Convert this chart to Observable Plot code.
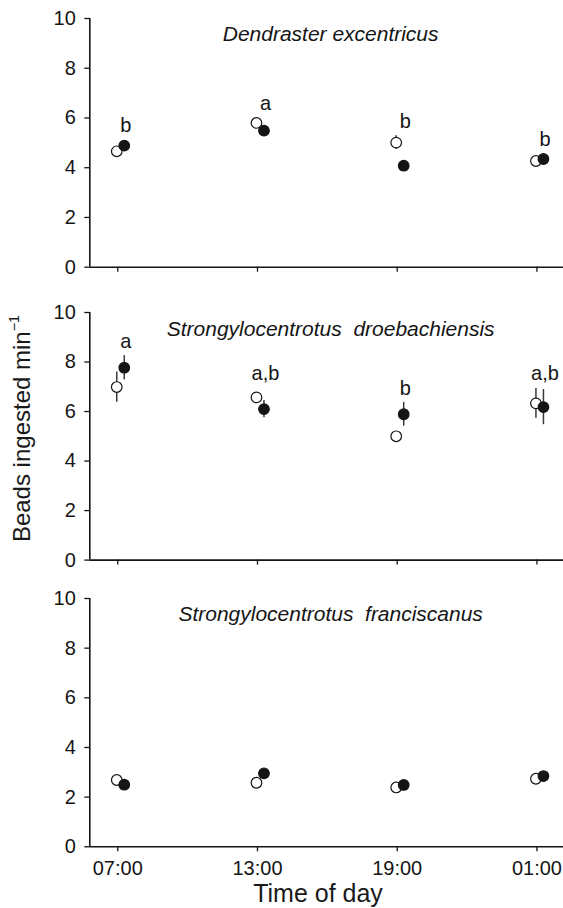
<!DOCTYPE html>
<html>
<head>
<meta charset="utf-8">
<script src="https://cdn.jsdelivr.net/npm/d3@7"></script>
<script src="https://cdn.jsdelivr.net/npm/@observablehq/plot@0.6"></script>
<style>
  html, body { margin: 0; padding: 0; background: #fff; }
  #wrap { position: relative; width: 563px; height: 908px; overflow: hidden; background: #fff;
          font-family: "Liberation Sans", Arial, Helvetica, sans-serif; color: #1a1a1a; }
  .panel { position: absolute; left: 0; }
  #ylab { position: absolute; width: 320px; height: 25px; line-height: 25px; text-align: center;
          font-size: 24px; left: -139.5px; top: 415.5px; transform: rotate(-90deg); white-space: nowrap; }
  #ylab sup { font-size: 0.6em; vertical-align: 0; position: relative; top: -0.75em; }
  #xlab { position: absolute; width: 300px; left: 168px; top: 880.5px; line-height: 25px; height: 25px;
          font-size: 25px; text-align: center; }
</style>
</head>
<body>
<div id="wrap">
  <div id="ylab">Beads ingested min<sup>−1</sup></div>
  <div id="xlab">Time of day</div>
</div>
<script>
// ---- data ----
const times = ["07:00", "13:00", "19:00", "01:00"];
const species = ["Dendraster excentricus", "Strongylocentrotus  droebachiensis", "Strongylocentrotus  franciscanus"];
const yTicks = [0, 2, 4, 6, 8, 10];

// Dendraster excentricus
const openMean1   = [4.66, 5.80, 5.01, 4.27];
const openSE1     = [0.12, 0.12, 0.28, 0.10];
const filledMean1 = [4.89, 5.49, 4.08, 4.35];
const filledSE1   = [0.10, 0.10, 0.10, 0.10];
const letters1    = ["b", "a", "b", "b"];
const letterY1    = [5.69, 6.59, 5.86, 5.13];

// Strongylocentrotus droebachiensis
const openMean2   = [6.99, 6.57, 5.00, 6.33];
const openSE2     = [0.61, 0.15, 0.15, 0.60];
const filledMean2 = [7.77, 6.10, 5.89, 6.18];
const filledSE2   = [0.49, 0.35, 0.48, 0.71];
const letters2    = ["a", "a,b", "b", "a,b"];
const letterY2    = [8.81, 7.54, 6.94, 7.54];

// Strongylocentrotus franciscanus
const openMean3   = [2.69, 2.58, 2.39, 2.74];
const openSE3     = [0.10, 0.10, 0.10, 0.10];
const filledMean3 = [2.50, 2.96, 2.49, 2.85];
const filledSE3   = [0.10, 0.10, 0.10, 0.10];
const letters3    = [];
const letterY3    = [];

// ---- layout ----
const xDomain = [-0.2, 3.19];
const ink = "#151515";
const panels = [
  {title: species[0], open: openMean1, openSE: openSE1, filled: filledMean1, filledSE: filledSE1, letters: letters1, letterY: letterY1,
   top: 0, plotH: 248.7, mb: 10, labels: false, titleDy: 8},
  {title: species[1], open: openMean2, openSE: openSE2, filled: filledMean2, filledSE: filledSE2, letters: letters2, letterY: letterY2,
   top: 293.7, plotH: 247.6, mb: 10, labels: false, titleDy: 8.5},
  {title: species[2], open: openMean3, openSE: openSE3, filled: filledMean3, filledSE: filledSE3, letters: letters3, letterY: letterY3,
   top: 580, plotH: 248.3, mb: 40, labels: true, titleDy: 7.5}
];

const wrap = document.getElementById("wrap");
const mt = 18;

for (const p of panels) {
  const openRows = times.map((t, i) => ({i, m: p.open[i], lo: p.open[i] - p.openSE[i], hi: p.open[i] + p.openSE[i]}));
  const filledRows = times.map((t, i) => ({i, m: p.filled[i], lo: p.filled[i] - p.filledSE[i], hi: p.filled[i] + p.filledSE[i]}));
  const letterRows = p.letters.map((l, i) => ({i, l, y: p.letterY[i]}));

  const chart = Plot.plot({
    width: 563,
    height: mt + p.plotH + p.mb,
    marginTop: mt,
    marginBottom: p.mb,
    marginLeft: 89.3,
    marginRight: 0,
    style: {fontFamily: '"Liberation Sans", Arial, Helvetica, sans-serif', fontSize: "20px", color: ink, background: "transparent", overflow: "visible"},
    x: {type: "linear", domain: xDomain},
    y: {domain: [0, 10]},
    marks: [
      Plot.axisY({ticks: yTicks, tickSize: 5, tickPadding: 9, fontSize: 20, label: null, strokeWidth: 1.3}),
      Plot.axisX({ticks: d3.range(times.length), tickSize: 5, tickPadding: 9, fontSize: 20, label: null, strokeWidth: 1.3,
                  tickFormat: p.labels ? (i => times[i]) : (() => "")}),
      Plot.ruleY([0], {stroke: ink, strokeWidth: 1.6}),
      Plot.ruleX([xDomain[0]], {stroke: ink, strokeWidth: 1.6}),
      Plot.ruleX(openRows, {x: "i", y1: "lo", y2: "hi", dx: -1, stroke: "#3a3a3a", strokeWidth: 1.5}),
      Plot.ruleX(filledRows, {x: "i", y1: "lo", y2: "hi", dx: 6.5, stroke: "#3a3a3a", strokeWidth: 1.5}),
      Plot.dot(openRows, {x: "i", y: "m", dx: -1, r: 5.3, fill: "white", stroke: ink, strokeWidth: 1.2}),
      Plot.dot(filledRows, {x: "i", y: "m", dx: 6.5, r: 5.3, fill: ink, stroke: ink, strokeWidth: 1.2}),
      Plot.text(letterRows, {x: "i", y: "y", text: "l", dx: 8, fontSize: 20, fill: ink}),
      Plot.text([p.title], {frameAnchor: "top", dy: p.titleDy, dx: 4, fontSize: 21, fontStyle: "italic", fill: ink})
    ]
  });
  const holder = document.createElement("div");
  holder.className = "panel";
  holder.style.top = p.top + "px";
  holder.appendChild(chart);
  wrap.appendChild(holder);
}
</script>
</body>
</html>
